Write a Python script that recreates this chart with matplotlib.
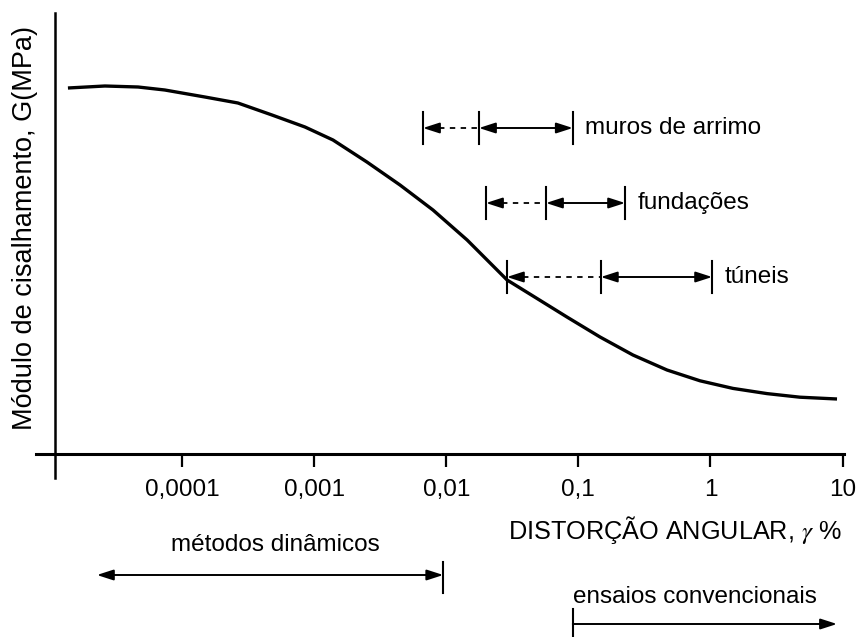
import numpy as np
import matplotlib
matplotlib.use("Agg")
import matplotlib.pyplot as plt

plt.rcParams['font.family'] = ['Liberation Sans', 'DejaVu Sans']
plt.rcParams['mathtext.fontset'] = 'stix'

# curva G x distorcao (G relativo)
gamma = [1.37e-5, 2.61e-5, 4.65e-5, 7.41e-5, 1.49e-4, 2.65e-4, 4.8e-4, 8.53e-4,
         1.39e-3, 2.51e-3, 4.47e-3, 7.94e-3, 0.0144, 0.0204, 0.0289, 0.0454,
         0.082, 0.146, 0.259, 0.469, 0.834, 1.48, 2.68, 4.76, 9.08]
G_rel = [0.915, 0.920, 0.9175, 0.910, 0.8925, 0.8775, 0.8475, 0.8175,
         0.785, 0.730, 0.6725, 0.610, 0.535, 0.485, 0.435, 0.395,
         0.3425, 0.2925, 0.2475, 0.210, 0.183, 0.164, 0.151, 0.142, 0.1375]

tick_vals = [1e-4, 1e-3, 1e-2, 1e-1, 1, 10]
tick_labels = ['0,0001', '0,001', '0,01', '0,1', '1', '10']

# faixas de deformacao por tipo de obra: (inicio tracejado, inicio cheio, fim)
obras = ['muros de arrimo', 'fundações', 'túneis']
faixa_ini = [0.00667, 0.020, 0.0288]
faixa_meio = [0.0177, 0.0569, 0.148]
faixa_fim = [0.0908, 0.226, 1.03]

metodos_din = (2.27e-5, 0.0095)
ensaios_conv = (0.0908, 9.08)

fs = 17.5
fig = plt.figure(figsize=(8.57, 6.37), dpi=100)
ax = fig.add_axes([36/857, 1 - 478/637, (844-36)/857, (478-13)/637])
ax.set_xscale('log')
ax.set_xlim(10**-5.105, 10**1.011)
ax.set_ylim(-0.06, 1.1025)

ax.spines['top'].set_visible(False)
ax.spines['right'].set_visible(False)
ax.spines['left'].set_position(('data', 1.094e-5))
ax.spines['bottom'].set_position(('data', 0))
ax.spines['left'].set_linewidth(1.8)
ax.spines['bottom'].set_linewidth(2.2)

ax.set_xticks(tick_vals)
ax.set_xticklabels(tick_labels)
ax.xaxis.set_minor_locator(matplotlib.ticker.NullLocator())
ax.tick_params(axis='x', direction='out', length=9, width=1.6, pad=9, labelsize=fs)
ax.set_yticks([])

ax.plot(gamma, G_rel, color='black', lw=2.4, solid_capstyle='butt')

estilo1 = '-|>,head_length=0.62,head_width=0.2'
estilo2 = '<|-|>,head_length=0.62,head_width=0.2'
seta = dict(mutation_scale=16, color='black', lw=1.4, shrinkA=0, shrinkB=0)
passo = 10 ** (16 / 132.1)  # ~16 px em escala log

# faixas
ys = [0.815, 0.6275, 0.4425]
h = 0.04
for nome, a, b, c, y in zip(obras, faixa_ini, faixa_meio, faixa_fim, ys):
    for xv in (a, b, c):
        ax.plot([xv, xv], [y - h, y + h], color='black', lw=1.5)
    # trecho tracejado + ponta cheia
    ax.plot([a * passo, b], [y, y], color='black', lw=1.3, linestyle=(0, (3, 3)))
    ax.annotate('', xy=(a, y), xytext=(a * passo, y),
                arrowprops=dict(arrowstyle=estilo1, **seta))
    ax.annotate('', xy=(c, y), xytext=(b, y),
                arrowprops=dict(arrowstyle=estilo2, **seta))
    ax.annotate(nome, xy=(c, y), xytext=(9, 0), textcoords='offset points',
                ha='left', va='center', fontsize=fs)

# rotulo do eixo x
ax.text(0.538, -0.19, 'DISTORÇÃO ANGULAR, $\\gamma$ %', ha='center', va='center',
        fontsize=18.2, clip_on=False)

# metodos dinamicos
ax.annotate('', xy=(metodos_din[0], -0.3025), xytext=(metodos_din[1], -0.3025),
            arrowprops=dict(arrowstyle=estilo2, **seta), annotation_clip=False)
ax.plot([metodos_din[1]] * 2, [-0.27, -0.3475], color='black', lw=1.5, clip_on=False)
ax.text(5.06e-4, -0.2275, 'métodos dinâmicos', ha='center', va='center',
        fontsize=fs, clip_on=False)

# ensaios convencionais
ax.annotate('', xy=(ensaios_conv[1], -0.425), xytext=(ensaios_conv[0], -0.425),
            arrowprops=dict(arrowstyle=estilo1, **seta), annotation_clip=False)
ax.plot([ensaios_conv[0]] * 2, [-0.3875, -0.48], color='black', lw=1.5, clip_on=False)
ax.text(ensaios_conv[0], -0.3575, 'ensaios convencionais', ha='left', va='center',
        fontsize=fs, clip_on=False)

fig.text(25/857, 1 - 228/637, 'Módulo de cisalhamento, G(MPa)', rotation=90,
         ha='center', va='center', fontsize=19.5)

fig.savefig('out.png', dpi=100)
